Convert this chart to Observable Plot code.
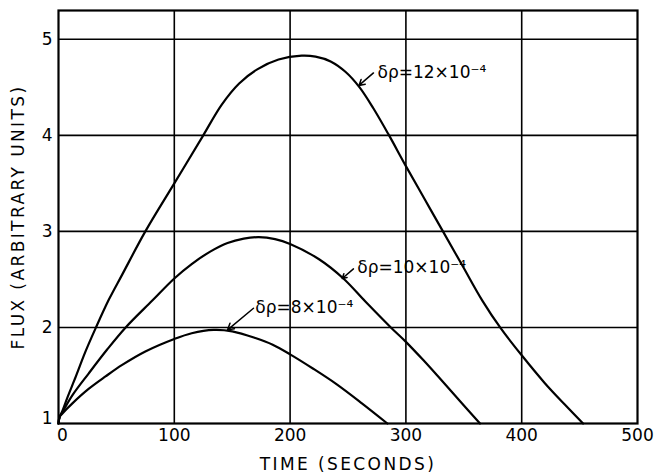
<!DOCTYPE html>
<html><head><meta charset="utf-8">
<script src="https://cdn.jsdelivr.net/npm/d3@7"></script>
<script src="https://cdn.jsdelivr.net/npm/@observablehq/plot@0.6"></script>
<style>
body{margin:0;background:#fff;}
#chart text{fill:#000;}
g[aria-label="x-axis label"] text, g[aria-label="y-axis label"] text{letter-spacing:2.4px;}
</style></head><body><div id="chart"></div>
<script>
const xTicks = [100, 200, 300, 400, 500];
const xOriginTick = [0];
const yTicks = [2, 3, 4, 5];
const yOriginTick = [1];
const xGrid = [100, 200, 300, 400];
const yGrid = [2, 3, 4, 5];

const time12 = [0, 1, 3, 8, 15, 23, 32, 43.5, 55, 75, 100, 124.5, 141, 156, 172, 190, 210, 222, 235, 248, 260, 272, 285, 300, 316, 332, 349, 366, 382, 400, 420, 437, 453];
const flux12 = [1.0, 1.07, 1.12, 1.28, 1.49, 1.74, 1.99, 2.29, 2.55, 3.0, 3.5, 3.99, 4.32, 4.54, 4.69, 4.79, 4.83, 4.82, 4.77, 4.66, 4.50, 4.28, 4.01, 3.68, 3.34, 3.0, 2.64, 2.28, 1.99, 1.71, 1.42, 1.2, 1.0];

const time10 = [0, 1, 3, 11.8, 26, 42, 58, 81, 100, 115, 131, 146, 160, 173, 187, 200, 225, 246, 265, 287, 300, 315, 330, 347, 364];
const flux10 = [1.0, 1.07, 1.11, 1.29, 1.52, 1.77, 2.0, 2.28, 2.51, 2.66, 2.79, 2.88, 2.925, 2.94, 2.92, 2.87, 2.71, 2.51, 2.27, 2.0, 1.85, 1.66, 1.46, 1.23, 1.0];

const time8 = [0, 1, 3, 12, 26, 40.6, 55, 75, 100, 115, 134, 150, 170, 185, 200, 220, 240, 262, 284];
const flux8 = [1.0, 1.07, 1.1, 1.21, 1.36, 1.49, 1.61, 1.75, 1.88, 1.94, 1.975, 1.96, 1.89, 1.82, 1.72, 1.57, 1.41, 1.21, 1.0];

const labelText = ["δρ=12×10⁻⁴", "δρ=10×10⁻⁴", "δρ=8×10⁻⁴"];
const labelX = [275.5, 258, 170];
const labelY = [4.65, 2.62, 2.21];
const arrowX1 = [272, 254.7, 168.4];
const arrowY1 = [4.65, 2.61, 2.20];
const arrowX2 = [259.5, 245, 146];
const arrowY2 = [4.52, 2.51, 1.975];

const rows = (t, f, s) => t.map((x, i) => ({t: x, f: f[i], s}));
const curves = [
  ...rows(time12, flux12, "12"),
  ...rows(time10, flux10, "10"),
  ...rows(time8, flux8, "8")
];
const labels = labelText.map((text, i) => ({text, x: labelX[i], y: labelY[i]}));
const arrows = arrowX1.map((x1, i) => ({x1, y1: arrowY1[i], x2: arrowX2[i], y2: arrowY2[i]}));

const fmt = d => String(d);

const chart = Plot.plot({
  width: 659, height: 475,
  marginLeft: 58, marginRight: 22, marginTop: 10, marginBottom: 52,
  style: {fontFamily: "DejaVu Sans, sans-serif", fontSize: "16px", color: "#000", background: "#fff", overflow: "visible"},
  x: {domain: [0, 500]},
  y: {domain: [1, 5.3]},
  marks: [
    Plot.gridX(xGrid, {stroke: "#000", strokeOpacity: 1, strokeWidth: 1.6}),
    Plot.gridY(yGrid, {stroke: "#000", strokeOpacity: 1, strokeWidth: 1.6}),
    Plot.frame({stroke: "#000", strokeWidth: 2.2}),
    Plot.axisX(xTicks, {tickSize: 0, tickPadding: 5, fontSize: 17, tickFormat: fmt, label: "TIME (SECONDS)", labelAnchor: "center", labelOffset: 46, labelArrow: "none"}),
    Plot.axisX(xOriginTick, {tickSize: 0, tickPadding: 5, fontSize: 17, tickFormat: fmt, dx: 4, label: null}),
    Plot.axisY(yTicks, {tickSize: 0, tickPadding: 6, fontSize: 17, tickFormat: fmt, label: "FLUX (ARBITRARY UNITS)", labelAnchor: "center", labelOffset: 47, labelArrow: "none"}),
    Plot.axisY(yOriginTick, {tickSize: 0, tickPadding: 6, fontSize: 17, tickFormat: fmt, dy: -5, label: null}),
    Plot.line(curves, {x: "t", y: "f", z: "s", stroke: "#000", strokeWidth: 2.2, curve: "catmull-rom"}),
    Plot.arrow(arrows, {x1: "x1", y1: "y1", x2: "x2", y2: "y2", stroke: "#000", strokeWidth: 1.5, headLength: 7}),
    Plot.text(labels, {x: "x", y: "y", text: "text", textAnchor: "start", fontSize: 17, fill: "#000"})
  ]
});
document.getElementById("chart").appendChild(chart);
</script></body></html>
